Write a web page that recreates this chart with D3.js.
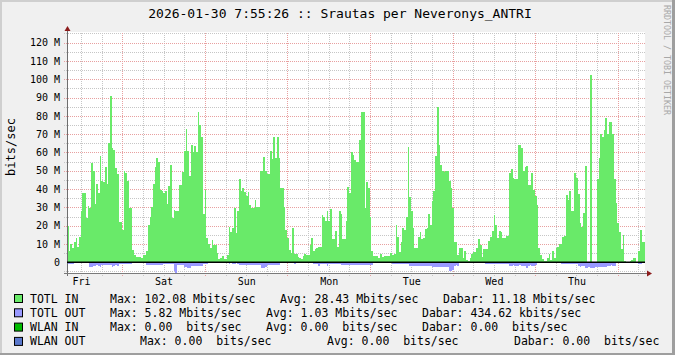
<!DOCTYPE html>
<html>
<head>
<meta charset="utf-8">
<script src="https://cdn.jsdelivr.net/npm/d3@7"></script>
<style>
  body { margin: 0; background: #f0f0f0; }
  svg { display: block; font-family: "DejaVu Sans Mono", monospace; }
  .grid .domain, .lbl .domain { display: none; }
  .grid line { shape-rendering: crispEdges; stroke-dasharray: 1,1; }
  .area { shape-rendering: crispEdges; }
</style>
</head>
<body>
<script>
// one value per 30 minute step, oldest first, Mbit/s
var totlIn = [
  20, 6, 10, 8, 11, 13, 8.5, 14, 28, 38, 38, 24,
  31, 29.5, 54, 50, 32, 43, 38, 58, 44.5, 44, 52, 42.5,
  65, 91, 62.5, 61.5, 51.5, 48, 22, 22, 17.7, 50, 49, 44.5,
  29.5, 29.5, 6.8, 4, 3, 3, 3, 2.2, 4, 4, 6, 20.5,
  24.5, 30, 42.5, 52, 57, 55, 39.6, 38.7, 38, 38.7, 32, 41.5,
  53.3, 24, 28.7, 28, 28, 42.4, 42.4, 49.3, 60.6, 73, 60.6, 47.3,
  64, 60.3, 63.4, 60.3, 82, 75, 68.3, 26.5, 39.6, 13, 10, 7.7,
  12, 9.5, 9.5, 5, 1.8, 2.6, 3.5, 1.8, 1.8, 4, 19.5, 16.8,
  19, 29.6, 16, 27.8, 45.5, 38.7, 40.5, 38.4, 36, 38.4, 31.4, 29.6,
  29.6, 34, 30, 30, 50, 50, 57.3, 50, 48.4, 48.4, 61, 56.4,
  68.5, 57, 68.3, 57, 40.5, 40.5, 30, 17.7, 13.5, 6.8, 5, 18.6,
  4.4, 4.4, 3.1, 2.6, 1.6, 3.5, 4.4, 4, 4, 9.5, 13, 6.2,
  7.3, 8, 8.6, 8.6, 25.6, 24.5, 22.6, 27.8, 22.6, 29, 12.8, 12.8,
  17.2, 8.6, 28.1, 26.3, 12.8, 12.8, 22.3, 41, 37.8, 60.3, 58.8, 56,
  54.8, 54.8, 66.7, 82.2, 82.2, 29.6, 43.8, 40.5, 25, 6.2, 3.5, 3.5,
  3.5, 2.6, 4.4, 3.1, 3.5, 3.5, 3.7, 3.7, 5, 4, 4.4, 20.5,
  14, 5.5, 11.3, 19, 17.7, 25, 63, 35.4, 27.8, 18.6, 7.7, 7.7,
  13.9, 16.8, 12.8, 13.2, 18, 18.6, 26.3, 20.5, 33.6, 38.7, 58, 85,
  64, 53.3, 50, 49.3, 50, 50, 44.6, 40.5, 29.6, 11.3, 11.3, 4,
  7.7, 7.7, 2.2, 6.2, 1.3, 0.7, 2.2, 4.4, 5.5, 5.5, 7.7, 12.6,
  9.5, 3.1, 7.3, 7.3, 7.3, 11.7, 14, 17.2, 26, 20.5, 13.2, 17.2,
  16.4, 13.2, 13.2, 14.6, 14.2, 48.8, 51, 46, 45.5, 45.5, 64, 64.3,
  62.5, 50, 52, 52.4, 42.4, 42.4, 48.6, 39.6, 36.3, 31.4, 7.7, 4,
  1.8, 0.7, 0.7, 2.2, 4.4, 1.3, 6.2, 2.2, 8, 8.6, 9.9, 9.9,
  14, 14.4, 36.9, 34, 39, 28, 28, 48.8, 46, 37.4, 21.4, 19.2,
  26.8, 52.8, 0, 0, 102.1, 0, 0, 0, 45.7, 57, 70, 68.5,
  72, 79, 70, 76.7, 76.7, 70, 45.7, 32.3, 21.4, 16.4, 7.3, 15,
  0.9, 0.4, 0.4, 0.9, 1.3, 2.2, 2.2, 0.4, 6.2, 17.7, 11, 11
];

// outgoing traffic, drawn below zero
var totlOut = [
  1.2, 1.0, 1.1, 0.9, 0.5, 0.6, 0.4, 0.5, 0.6, 0.5, 0.4, 0.6,
  0.5, 2.5, 2.6, 2.2, 1.8, 1.6, 1.9, 2.5, 1.5, 1.4, 1.6, 1.5,
  1.3, 1.6, 2.5, 1.8, 1.7, 1.9, 0.9, 0.8, 1.0, 0.9, 0.9, 0.8,
  0.9, 1.0, 0.2, 0.2, 0.1, 0.2, 0.2, 0.1, 0.2, 0.3, 1.4, 1.5,
  1.6, 1.5, 1.4, 1.6, 1.5, 1.3, 1.5, 1.4, 1.2, 1.1, 1.0, 1.2,
  1.1, 1.0, 4.7, 5.8, 1.5, 1.4, 1.6, 1.5, 2.5, 2.4, 3.3, 3.0,
  2.0, 2.2, 1.9, 2.1, 2.0, 1.8, 2.0, 0.8, 0.9, 0.7, 0.2, 0.2,
  0.1, 0.2, 0.2, 0.1, 0.2, 0.2, 0.1, 0.2, 0.2, 0.1, 0.7, 0.6,
  0.7, 0.8, 0.6, 0.7, 1.5, 1.4, 1.6, 1.5, 1.4, 1.5, 1.6, 1.5,
  1.4, 1.6, 1.5, 1.4, 1.5, 2.9, 3.2, 2.8, 1.5, 1.4, 1.6, 1.5,
  1.4, 1.5, 1.6, 1.4, 0.5, 0.4, 0.5, 0.6, 0.5, 0.4, 0.5, 0.5,
  1.0, 0.2, 0.2, 0.1, 0.2, 0.2, 0.1, 0.2, 0.2, 0.1, 0.2, 1.1,
  1.0, 1.2, 1.8, 1.1, 1.0, 1.1, 1.2, 1.8, 1.0, 1.1, 1.0, 1.2,
  1.1, 1.0, 1.1, 1.5, 1.4, 1.6, 1.5, 1.4, 1.5, 1.6, 1.5, 1.4,
  1.5, 1.6, 1.5, 1.5, 1.6, 1.4, 1.5, 1.6, 1.4, 1.5, 0.3, 0.3,
  0.2, 0.3, 0.3, 0.2, 0.3, 0.3, 0.2, 0.3, 0.3, 1.1, 1.0, 1.2,
  1.1, 1.0, 1.1, 1.2, 1.1, 1.0, 1.1, 2.0, 2.1, 1.9, 2.0, 2.2,
  1.8, 2.0, 2.1, 1.9, 2.0, 2.2, 2.0, 1.9, 2.5, 2.6, 2.4, 2.5,
  2.6, 2.5, 2.4, 2.5, 2.6, 2.5, 4.7, 4.8, 4.2, 1.8, 1.7, 1.8,
  0.2, 0.2, 0.1, 0.2, 0.2, 0.1, 0.2, 0.2, 0.1, 0.2, 0.2, 0.1,
  0.2, 0.2, 0.2, 1.1, 1.0, 1.2, 1.1, 1.0, 1.1, 1.2, 1.0, 1.1,
  1.1, 1.0, 1.2, 1.1, 1.0, 1.8, 1.9, 1.7, 1.8, 1.9, 1.8, 1.7,
  1.8, 1.9, 1.8, 3.0, 1.8, 1.7, 1.9, 1.8, 1.7, 0.2, 0.2, 0.1,
  0.2, 0.2, 0.1, 0.2, 0.2, 0.1, 0.2, 0.2, 0.2, 0.2, 0.1, 1.1,
  1.0, 1.2, 1.1, 1.0, 1.1, 1.2, 1.0, 1.1, 1.0, 2.2, 2.3, 2.1,
  2.2, 2.9, 3.0, 2.8, 2.9, 3.0, 2.9, 2.8, 2.5, 2.4, 2.6, 2.5,
  2.4, 2.5, 1.8, 1.9, 1.7, 1.8, 1.8, 0.2, 0.2, 0.1, 0.2, 0.2,
  0.1, 0.2, 0.2, 0.1, 0.2, 0.2, 0.1, 0.2, 1.0, 1.1, 0.2, 0.2
];

var yTicks = [0, 10, 20, 30, 40, 50, 60, 70, 80, 90, 100, 110, 120];
var yMinor = [-5, 5, 15, 25, 35, 45, 55, 65, 75, 85, 95, 105, 115, 125];

var legendNames = ["TOTL IN", "TOTL OUT", "WLAN IN", "WLAN OUT"];
var legendColors = ["#69ea69", "#9999ff", "#00bb00", "#5a78cc"];
var legendMax = ["Max: 102.08 Mbits/sec", "Max: 5.82 Mbits/sec", "Max: 0.00  bits/sec", "Max: 0.00  bits/sec"];
var legendAvg = ["Avg: 28.43 Mbits/sec", "Avg: 1.03 Mbits/sec", "Avg: 0.00  bits/sec", "Avg: 0.00  bits/sec"];
var legendNow = ["Dabar: 11.18 Mbits/sec", "Dabar: 434.62 kbits/sec", "Dabar: 0.00  bits/sec", "Dabar: 0.00  bits/sec"];

var title = "2026-01-30 7:55:26 :: Srautas per Neveronys_ANTRI";

var svgWidth = 675, svgHeight = 355;
var margin = {top: 32, left: 67};
var width = 578, height = 241;

var end = new Date(Date.UTC(2026, 0, 30, 7, 55, 26));
var start = new Date(+end - 7 * 24 * 3600e3);
var step = 1800e3;

var svg = d3.select("body").append("svg")
  .attr("width", svgWidth)
  .attr("height", svgHeight);

// background + shaded frame
svg.append("rect").attr("width", svgWidth).attr("height", svgHeight).attr("fill", "#f0f0f0");
svg.append("rect").attr("width", svgWidth).attr("height", 2).attr("fill", "#cfcfcf");
svg.append("rect").attr("width", 2).attr("height", svgHeight).attr("fill", "#cfcfcf");
svg.append("rect").attr("x", svgWidth - 3).attr("width", 3).attr("height", svgHeight).attr("fill", "#9e9e9e");
svg.append("rect").attr("y", svgHeight - 2).attr("width", svgWidth).attr("height", 2).attr("fill", "#9e9e9e");

var chart = svg.append("g")
  .attr("transform", `translate(${margin.left}, ${margin.top})`);

chart.append("rect").attr("width", width).attr("height", height).attr("fill", "#ffffff");

var x = d3.scaleUtc().domain([start, end]).range([0, width]);
var y = d3.scaleLinear().domain([-5.85, 125.8]).range([height, 0]);

function series(vals, sign) {
  var pts = vals.map(function(v, i) {
    return {t: new Date(+start + i * step), v: sign * v};
  });
  pts.push({t: end, v: pts[pts.length - 1].v});
  return pts;
}

var area = d3.area()
  .x(d => x(d.t))
  .y0(y(0))
  .y1(d => y(d.v))
  .curve(d3.curveStepAfter);

// grid
var minorX = d3.utcHour.every(6).range(start, end).filter(d => d.getUTCHours() !== 0);
var majorX = d3.utcDay.range(start, end);
var majorY = yTicks.filter(v => v !== 0);

function grid(g, color) {
  g.attr("class", "grid");
  g.selectAll("line").attr("stroke", color);
  g.selectAll("text").remove();
}

chart.append("g")
  .attr("transform", "translate(-3,0)")
  .call(d3.axisLeft(y).tickValues(yMinor).tickSize(-(width + 3)).tickFormat(""))
  .call(grid, "#c6c6c6");
chart.append("g")
  .attr("transform", `translate(0,${height + 3})`)
  .call(d3.axisBottom(x).tickValues(minorX).tickSize(-(height + 3)).tickFormat(""))
  .call(grid, "#c6c6c6");
chart.append("g")
  .attr("transform", "translate(-3,0)")
  .call(d3.axisLeft(y).tickValues(majorY).tickSize(-(width + 3)).tickFormat(""))
  .call(grid, "#e8a0a0");
chart.append("g")
  .attr("transform", `translate(0,${height + 3})`)
  .call(d3.axisBottom(x).tickValues(majorX).tickSize(-(height + 3)).tickFormat(""))
  .call(grid, "#e8a0a0");

// data
chart.append("path").datum(series(totlIn, 1))
  .attr("class", "area").attr("fill", legendColors[0]).attr("d", area);
chart.append("path").datum(series(totlOut, -1))
  .attr("class", "area").attr("fill", legendColors[1]).attr("d", area);

// axes lines
chart.append("line").attr("x1", 0.5).attr("x2", 0.5).attr("y1", -4).attr("y2", height + 3)
  .attr("stroke", "#6e6e6e").attr("shape-rendering", "crispEdges");
chart.append("line").attr("x1", -3).attr("x2", width + 5).attr("y1", height + 0.5).attr("y2", height + 0.5)
  .attr("stroke", "#7a7a7a").attr("shape-rendering", "crispEdges");
chart.append("path").attr("d", "M-2.5,-1L0.5,-6L3.5,-1Z").attr("fill", "#8c1c1c");
chart.append("path").attr("d", `M${width + 2},${height - 2.5}L${width + 7},${height + 0.5}L${width + 2},${height + 3.5}Z`)
  .attr("fill", "#8c1c1c");

// zero line
chart.append("line").attr("x1", 0).attr("x2", width).attr("y1", y(0)).attr("y2", y(0))
  .attr("stroke", "#000").attr("stroke-width", 1.5);

// labels
var yAxis = chart.append("g").attr("class", "lbl")
  .call(d3.axisLeft(y).tickValues(yTicks).tickSize(0).tickPadding(7)
    .tickFormat(v => v === 0 ? "0" : v + " M"));
yAxis.attr("font-family", null).attr("font-size", 10);
yAxis.selectAll("text").attr("fill", "#000");

var noons = majorX.concat([d3.utcDay.floor(start)])
  .map(d => d3.utcHour.offset(d, 12))
  .filter(d => d >= start && d <= end);
var xAxis = chart.append("g").attr("class", "lbl")
  .attr("transform", `translate(0,${height})`)
  .call(d3.axisBottom(x).tickValues(noons).tickSize(0).tickPadding(5)
    .tickFormat(d3.utcFormat("%a")));
xAxis.attr("font-family", null).attr("font-size", 10);
xAxis.selectAll("text").attr("fill", "#000");

svg.append("text")
  .attr("x", 340).attr("y", 18)
  .attr("text-anchor", "middle")
  .attr("font-size", 13)
  .text(title);

svg.append("text")
  .attr("transform", "translate(15,147) rotate(-90)")
  .attr("text-anchor", "middle")
  .attr("font-size", 12)
  .text("bits/sec");

svg.append("text")
  .attr("transform", "translate(664,5) rotate(90)")
  .attr("font-size", 8.3)
  .attr("fill", "#a8a8a8")
  .text("RRDTOOL / TOBI OETIKER");

// legend
var colX = [[110, 280, 443], [110, 266, 422], [110, 266, 422], [140, 327, 514]];
var legend = svg.append("g").attr("font-size", 11.5).attr("xml:space", "preserve");
legendNames.forEach(function(name, i) {
  var base = 302.5 + i * 14.3;
  legend.append("rect")
    .attr("x", 14.5).attr("y", base - 8).attr("width", 8).attr("height", 8)
    .attr("fill", legendColors[i]).attr("stroke", "#000");
  legend.append("text").attr("x", 30).attr("y", base).text(name);
  legend.append("text").attr("x", colX[i][0]).attr("y", base).style("white-space", "pre").text(legendMax[i]);
  legend.append("text").attr("x", colX[i][1]).attr("y", base).style("white-space", "pre").text(legendAvg[i]);
  legend.append("text").attr("x", colX[i][2]).attr("y", base).style("white-space", "pre").text(legendNow[i]);
});
</script>
</body>
</html>
